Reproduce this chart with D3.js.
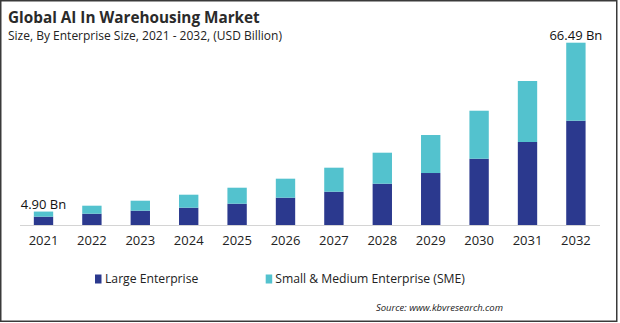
<!DOCTYPE html>
<html><head><meta charset="utf-8">
<script src="https://cdn.jsdelivr.net/npm/d3@7"></script>
<style>body{margin:0;background:#fff}svg{display:block}text{font-family:"Open Sans",sans-serif}</style>
</head><body><svg id="c" width="620" height="323"></svg>
<script>
const years = ["2021","2022","2023","2024","2025","2026","2027","2028","2029","2030","2031","2032"];
const largeEnterprise = [3.03,4.12,5.22,6.31,7.77,9.96,12.14,15.06,18.96,24.18,30.27,38.04];
const smeEnterprise = [1.87,2.92,3.64,4.74,5.83,6.93,8.76,11.31,13.86,17.50,22.25,28.45];
const seriesNames = ["Large Enterprise","Small & Medium Enterprise (SME)"];
const endLabels = [{year:"2021",text:"4.90 Bn"},{year:"2032",text:"66.49 Bn"}];
const colors = ["#2B398E","#53C2CE"];

const svg = d3.select("#c");
svg.append("rect").attr("x",0.75).attr("y",0.75).attr("width",616).attr("height",320.5)
  .attr("fill","#fff").attr("stroke","#3a3a3a").attr("stroke-width",1.5);

const x = d3.scaleBand().domain(years).range([19.3,600.1]).paddingInner(0.6).paddingOuter(0.3);
const y = d3.scaleLinear().domain([0,66.49]).range([225,42.7]);

const rows = years.map((yr,i)=>({year:yr,large:largeEnterprise[i],sme:smeEnterprise[i]}));
const stack = d3.stack().keys(["large","sme"])(rows);

svg.append("g").selectAll("g").data(stack).join("g").attr("fill",(d,i)=>colors[i])
  .selectAll("rect").data(d=>d).join("rect")
  .attr("x",d=>x(d.data.year)).attr("width",x.bandwidth())
  .attr("y",d=>y(d[1])).attr("height",d=>y(d[0])-y(d[1]));

svg.append("line").attr("x1",20).attr("x2",600).attr("y1",225.5).attr("y2",225.5)
  .attr("stroke","#d4d4d4").attr("stroke-width",1);

const xAxis = d3.axisBottom(x).tickSize(0).tickPadding(0);
const ga = svg.append("g").attr("transform","translate(0,235)").call(xAxis);
ga.select(".domain").remove();
ga.selectAll("text").attr("font-size",13).attr("fill","#222").attr("dy","0.75em")
  .style("font-family","'Open Sans',sans-serif");

const totals = {}; rows.forEach(r=>totals[r.year]=r.large+r.sme);
svg.selectAll(".lbl").data(endLabels).join("text")
  .attr("x",d=>x(d.year)+x.bandwidth()/2).attr("y",d=>y(totals[d.year])-3)
  .attr("text-anchor","middle").attr("font-size",13).attr("fill","#111").text(d=>d.text);

svg.append("text").attr("x",8).attr("y",23).attr("font-size",15.3).attr("font-weight","bold")
  .attr("fill","#2a2a2a").text("Global AI In Warehousing Market");
svg.append("text").attr("x",8).attr("y",40).attr("font-size",12)
  .attr("fill","#222").text("Size, By Enterprise Size, 2021 - 2032, (USD Billion)");

const legX = [95,265.7];
const lg = svg.append("g").selectAll("g").data(seriesNames).join("g")
  .attr("transform",(d,i)=>`translate(${legX[i]},0)`);
lg.append("rect").attr("x",0).attr("y",274.5).attr("width",6.5).attr("height",9)
  .attr("fill",(d,i)=>colors[i]);
lg.append("text").attr("x",(d,i)=>i?9.5:10).attr("y",283).attr("font-size",12.2)
  .attr("fill","#222").text(d=>d);

svg.append("text").attr("x",503).attr("y",311).attr("text-anchor","end")
  .attr("font-size",9.5).attr("font-style","italic").attr("fill","#222")
  .text("Source: www.kbvresearch.com");
</script></body></html>
